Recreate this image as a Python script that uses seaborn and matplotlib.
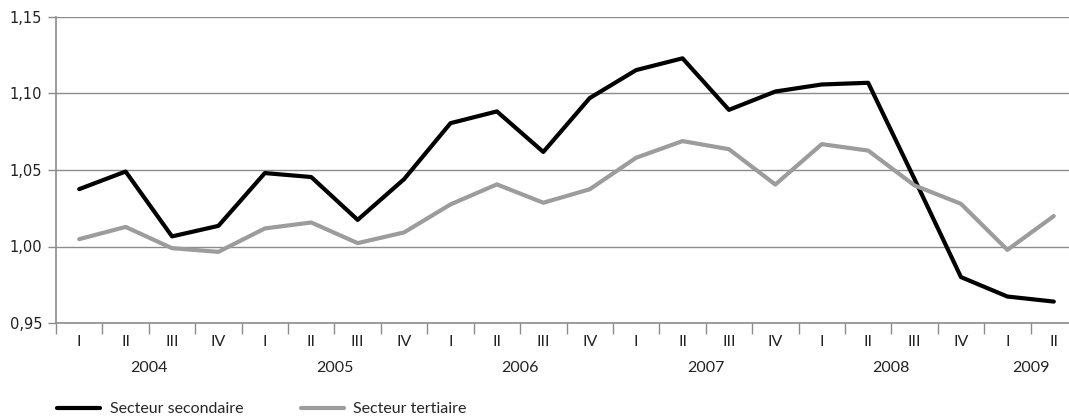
import matplotlib
matplotlib.use("Agg")
import matplotlib.pyplot as plt
import matplotlib.transforms as mtransforms
from matplotlib.lines import Line2D
import seaborn as sns
import pandas as pd
import numpy as np

quarters = ["I", "II", "III", "IV"] * 5 + ["I", "II"]
years = ["2004", "2005", "2006", "2007", "2008", "2009"]
year_counts = [4, 4, 4, 4, 4, 2]

secondaire = [1.0375, 1.049, 1.0066, 1.0135, 1.048, 1.0454, 1.0174, 1.044,
              1.0806, 1.0883, 1.0618, 1.097, 1.1153, 1.123, 1.0893, 1.1013,
              1.1059, 1.107, 1.044, 0.980, 0.9673, 0.964]
tertiaire = [1.0048, 1.0128, 0.9989, 0.9965, 1.0118, 1.0157, 1.0022, 1.0092,
             1.0275, 1.0406, 1.0286, 1.0374, 1.058, 1.0689, 1.0636, 1.0405,
             1.0669, 1.0627, 1.0399, 1.0279, 0.9978, 1.0199]

series_names = ["Secteur secondaire", "Secteur tertiaire"]
colors = ["#000000", "#9c9c9c"]

n = len(quarters)
df = pd.DataFrame({
    "idx": list(range(n)) * 2,
    "valeur": secondaire + tertiaire,
    "serie": [series_names[0]] * n + [series_names[1]] * n,
})

sns.set_style("white")
plt.rcParams["font.family"] = ["DejaVu Sans"]

W, H = 1069, 418
fig = plt.figure(figsize=(W / 100, H / 100), dpi=100)
ax = fig.add_axes([56 / W, 1 - 323 / H, (1077 - 56) / W, (323 - 17) / H])

sns.lineplot(data=df, x="idx", y="valeur", hue="serie", palette=colors,
             linewidth=3.0, ax=ax, legend=False, sort=False)

ax.set_xlim(-0.5, n - 0.5)
ax.set_ylim(0.95, 1.15)
yt = [0.95, 1.00, 1.05, 1.10, 1.15]
ax.set_yticks(yt)
ax.set_yticklabels([f"{v:.2f}".replace(".", ",") for v in yt],
                   fontsize=10.5, color="#222222")
ax.yaxis.grid(True, color="#8c8c8c", linewidth=1.0)
ax.xaxis.grid(False)
ax.set_axisbelow(True)
ax.tick_params(axis="y", length=6, width=1, color="#8c8c8c", pad=4, left=True)

ax.set_xticks(range(n))
ax.set_xticklabels(quarters, fontsize=11.5, family=["Lato", "DejaVu Sans"],
                   color="#222222")
ax.tick_params(axis="x", which="major", length=0, pad=9)
ax.set_xticks(np.arange(-0.5, n, 1.0), minor=True)
ax.tick_params(axis="x", which="minor", length=8, width=1, color="#8c8c8c",
               bottom=True)

for s in ["top", "right"]:
    ax.spines[s].set_visible(False)
for s in ["left", "bottom"]:
    ax.spines[s].set_color("#8c8c8c")
    ax.spines[s].set_linewidth(1.2)

ax.set_xlabel("")
ax.set_ylabel("")

trans = mtransforms.blended_transform_factory(ax.transData, fig.transFigure)
start = 0
for y, c in zip(years, year_counts):
    center = start + (c - 1) / 2
    ax.text(center, 1 - 368 / H, y, transform=trans, ha="center", va="center",
            fontsize=11.5, family=["Lato", "DejaVu Sans"], color="#222222")
    start += c

handles = [Line2D([0], [0], color=col, linewidth=3.0) for col in colors]
fig.legend(handles, series_names, loc="center left",
           bbox_to_anchor=(57 / W, 1 - 409 / H), ncol=2, frameon=False,
           borderpad=0, borderaxespad=0,
           handlelength=2.7, handletextpad=0.6, columnspacing=3.6,
           prop={"family": ["Lato", "DejaVu Sans"], "size": 11.5})

fig.savefig("out.png", dpi=100)
